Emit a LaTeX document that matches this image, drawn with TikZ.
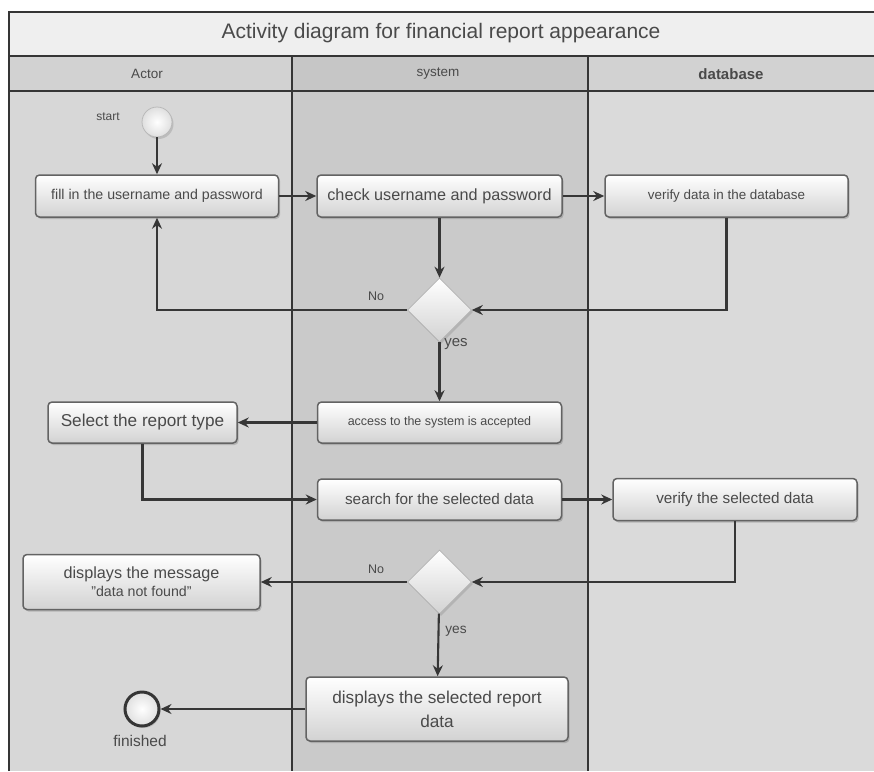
\documentclass[tikz,border=0pt]{standalone}
\usepackage{fontspec}
\setmainfont{Liberation Sans}
\usetikzlibrary{arrows.meta,shadows,shapes.geometric}
\definecolor{framec}{HTML}{353535}
\definecolor{linec}{HTML}{363636}
\definecolor{txt}{HTML}{4A4A4A}
\definecolor{boxborder}{HTML}{636363}
\definecolor{boxbot}{HTML}{D2D2D2}
\definecolor{titlebg}{HTML}{EFEFEF}
\definecolor{headA}{HTML}{D2D2D2}
\definecolor{headB}{HTML}{C6C6C6}
\definecolor{laneA}{HTML}{D7D7D7}
\definecolor{laneB}{HTML}{CACACA}
\definecolor{laneC}{HTML}{DADADA}
\begin{document}
\begin{tikzpicture}[x=1pt,y=-1pt,
  frameline/.style={draw=framec, line width=1.8pt},
  actbox/.style={draw=boxborder, line width=1.5pt, rounded corners=4pt,
    top color=white, bottom color=boxbot,
    drop shadow={shadow xshift=1.5pt, shadow yshift=-2pt, opacity=0.4},
    text=txt, align=center, inner sep=0pt},
  decision/.style={diamond, draw=gray!60, line width=0.6pt, minimum width=64pt, minimum height=64pt,
    inner sep=0pt, top color=white, bottom color=boxbot,
    drop shadow={shadow xshift=1.5pt, shadow yshift=-2pt, opacity=0.3}},
  flow/.style={draw=linec, line width=2.1pt, -{Stealth[length=11pt,width=10pt]}},
  lbl/.style={text=txt, inner sep=0pt}
]
\useasboundingbox (0,0) rectangle (874,771);
% backgrounds
\fill[white] (0,0) rectangle (874,771);
\fill[titlebg] (9,12) rectangle (874,56);
\fill[headA] (9,56) rectangle (292,91);
\fill[headB] (292,56) rectangle (588,91);
\fill[headA] (588,56) rectangle (874,91);
\fill[laneA] (9,91) rectangle (292,771);
\fill[laneB] (292,91) rectangle (588,771);
\fill[laneC] (588,91) rectangle (874,771);
% frame
\draw[frameline] (9,771) -- (9,12) -- (874,12);
\draw[frameline] (9,56) -- (874,56);
\draw[frameline] (9,91) -- (874,91);
\draw[frameline] (292,56) -- (292,771);
\draw[frameline] (588,56) -- (588,771);
% headers
\node[lbl, font=\fontsize{21}{24}\selectfont] (title) at (441,33) {Activity diagram for financial report appearance};
\node[lbl, font=\fontsize{13.5}{15}\selectfont] (hA) at (147,74) {Actor};
\node[lbl, font=\fontsize{13.5}{15}\selectfont] (hB) at (438,74) {system};
\node[lbl, font=\bfseries\fontsize{15}{17}\selectfont] (hC) at (731,74) {database};
% nodes
\node[circle, minimum size=30pt, inner sep=0pt, draw=gray!55, line width=0.8pt,
  inner color=white, outer color=gray!25,
  drop shadow={shadow xshift=1.5pt, shadow yshift=-2pt, opacity=0.3}] (start) at (157,122) {};
\node[lbl, font=\fontsize{12}{14}\selectfont] (startl) at (108,117) {start};
\node[actbox, minimum width=243pt, minimum height=42pt, font=\fontsize{14.2}{16}\selectfont] (fill) at (157,196) {fill in the username and password};
\node[actbox, minimum width=245pt, minimum height=42pt, font=\fontsize{16.2}{18}\selectfont] (check) at (439.5,196) {check username and password};
\node[actbox, minimum width=243pt, minimum height=42pt, font=\fontsize{13.4}{15}\selectfont] (verify) at (726.5,196) {verify data in the database};
\node[decision] (d1) at (439.5,310) {};
\node[lbl, font=\fontsize{12.5}{14}\selectfont] (no1) at (376,296) {No};
\node[lbl, font=\fontsize{15}{17}\selectfont] (yes1) at (456,344) {yes};
\node[actbox, minimum width=244pt, minimum height=41pt, font=\fontsize{12.5}{14}\selectfont] (access) at (439.5,422.5) {access to the system is accepted};
\node[actbox, minimum width=189pt, minimum height=41pt, font=\fontsize{17.2}{19}\selectfont] (select) at (142.5,422.5) {Select the report type};
\node[actbox, minimum width=244pt, minimum height=41pt, font=\fontsize{15.3}{17}\selectfont] (search) at (439.5,499.5) {search for the selected data};
\node[actbox, minimum width=244pt, minimum height=42pt, font=\fontsize{15.3}{17}\selectfont] (verify2) at (735,499.5) {verify the selected data};
\node[decision] (d2) at (439.5,582) {};
\node[lbl, font=\fontsize{12.5}{14}\selectfont] (no2) at (376,569) {No};
\node[lbl, font=\fontsize{13.7}{16}\selectfont] (yes2) at (456,631) {yes};
\node[actbox, minimum width=237pt, minimum height=55pt, font=\fontsize{16.2}{18}\selectfont] (message) at (141.5,582) {displays the message\\{\fontsize{14.2}{18}\selectfont "data not found"}};
\node[actbox, minimum width=262pt, minimum height=64pt, font=\fontsize{17.2}{24}\selectfont] (display) at (437,709) {displays the selected report\\data};
\node[circle, minimum size=34pt, inner sep=0pt, draw=framec, line width=3pt,
  inner color=white, outer color=gray!25,
  drop shadow={shadow xshift=1.5pt, shadow yshift=-2pt, opacity=0.3}] (finish) at (142,709) {};
\node[lbl, font=\fontsize{15.5}{17}\selectfont] (finl) at (140,741) {finished};
% connectors
\draw[flow] (start) -- (fill);
\draw[flow] (fill) -- (check);
\draw[flow] (check) -- (verify);
\draw[flow] (check) -- (d1);
\draw[flow] (verify.south) |- (d1.east);
\draw[flow] (d1.west) -| (fill.south);
\draw[flow] (d1) -- (access);
\draw[flow] (access) -- (select);
\draw[flow] (select.south) |- (search.west);
\draw[flow] (search) -- (verify2);
\draw[flow] (verify2.south) |- (d2.east);
\draw[flow] (d2) -- (message);
\draw[flow] (d2) -- (display);
\draw[flow] (display) -- (finish);
\end{tikzpicture}
\end{document}
